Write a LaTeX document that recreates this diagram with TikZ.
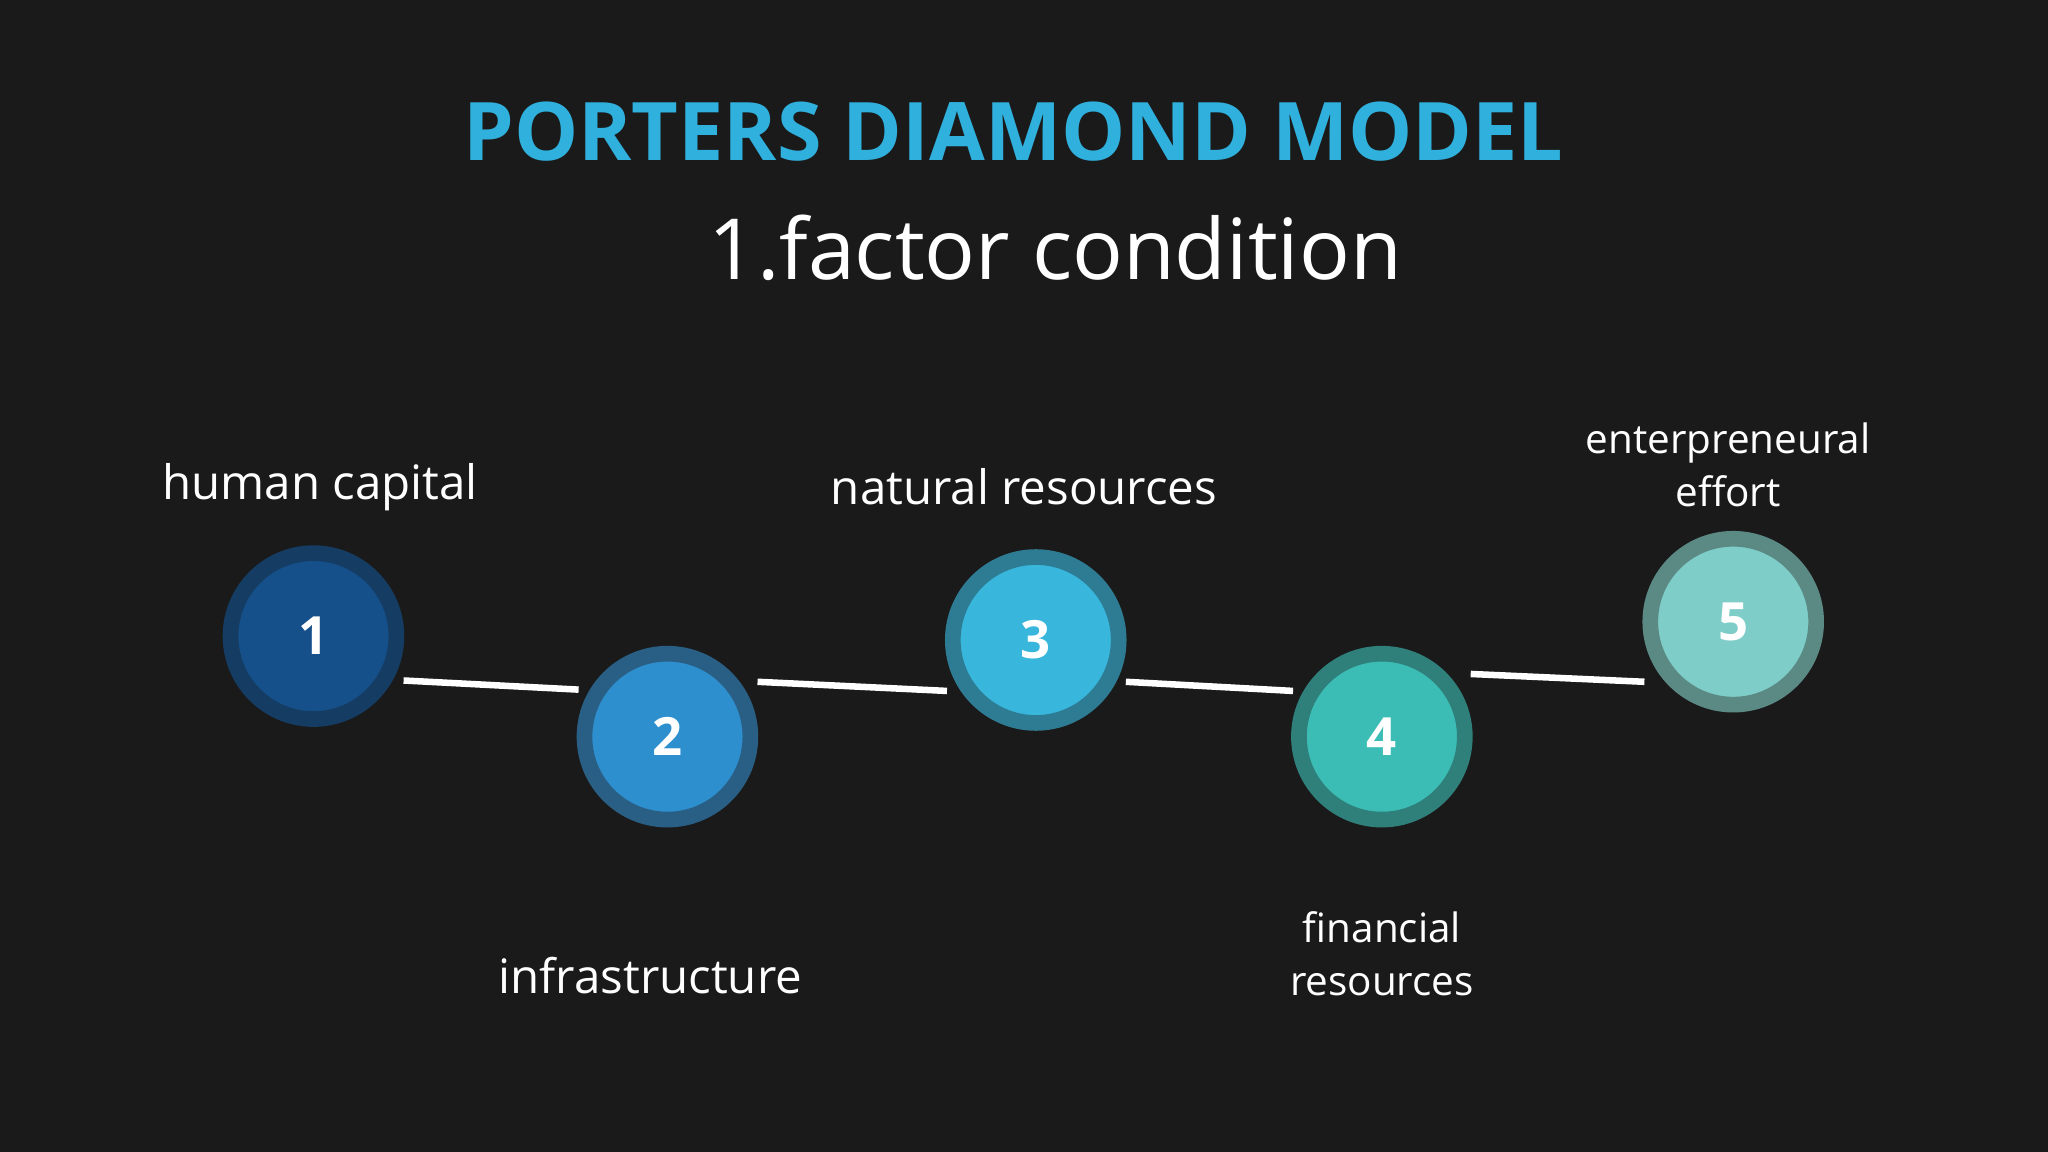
\documentclass[tikz,border=0pt]{standalone}
\usepackage{fontspec}
\setmainfont{Open Sans}
\usetikzlibrary{calc}
\definecolor{bg}{HTML}{1A1A1A}
\definecolor{ttl}{HTML}{2FB0DD}
\definecolor{f1}{HTML}{16508A}\definecolor{r1}{HTML}{153D63}
\definecolor{f2}{HTML}{2E8FCF}\definecolor{r2}{HTML}{2A5F85}
\definecolor{f3}{HTML}{38B6DC}\definecolor{r3}{HTML}{2E7C94}
\definecolor{f4}{HTML}{3BBDB5}\definecolor{r4}{HTML}{2F7F7A}
\definecolor{f5}{HTML}{7FCDC8}\definecolor{r5}{HTML}{5B8A85}
\begin{document}
\begin{tikzpicture}[x=0.013061cm,y=-0.013061cm,
  step/.style n args={2}{circle,minimum size=127*0.013061cm,fill=#1,draw=#2,line width=12*0.013061cm,inner sep=0pt,text=white,font=\fontsize{15}{18}\selectfont\bfseries},
  lab/.style={text=white,font=\fontsize{13.5}{16}\selectfont,align=center},
  slab/.style={text=white,font=\fontsize{11.5}{15}\selectfont,align=center},
  conn/.style={white,line width=5*0.013061cm}]
\fill[bg] (0,0) rectangle (1568,882);
\node[text=ttl,font=\fontsize{23}{28}\selectfont\bfseries] (title) at (776,101) {PORTERS DIAMOND MODEL};
\node[text=white,font=\fontsize{24}{29}\selectfont] (sub) at (808,190) {1.factor condition};
\node[step={f1}{r1}] (c1) at (240,487) {1};
\node[step={f2}{r2}] (c2) at (511,564) {2};
\node[step={f3}{r3}] (c3) at (793,490) {3};
\node[step={f4}{r4}] (c4) at (1058,564) {4};
\node[step={f5}{r5}] (c5) at (1327,476) {5};
\coordinate (a1) at (309,521); \coordinate (a2) at (443,528);
\coordinate (b1) at (580,522); \coordinate (b2) at (725,529);
\coordinate (d1) at (862,522); \coordinate (d2) at (990,529);
\coordinate (e1) at (1126,516); \coordinate (e2) at (1259,522);
\draw[conn] (a1) -- (a2);
\draw[conn] (b1) -- (b2);
\draw[conn] (d1) -- (d2);
\draw[conn] (e1) -- (e2);
\node[lab] (l1) at (245,373) {human capital};
\node[lab] (l3) at (784,373) {natural resources};
\node[lab] (l2) at (498,747) {infrastructure};
\node[slab] (l4) at (1058,730) {financial\\resources};
\node[slab] (l5) at (1323,356) {enterpreneural\\effort};
\end{tikzpicture}
\end{document}
